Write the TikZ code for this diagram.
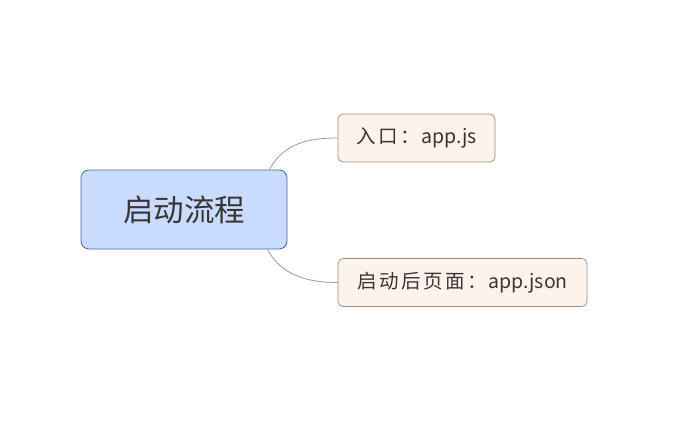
\documentclass[tikz,border=0pt]{standalone}
\usepackage{fontspec}
\newfontfamily\cjk{Noto Sans CJK SC}
\definecolor{mainfill}{HTML}{C9DCFF}
\definecolor{maindraw}{HTML}{4F6399}
\definecolor{subfill}{HTML}{FDF3EA}
\definecolor{subdraw}{HTML}{A08C80}
\definecolor{linkc}{HTML}{9A9A9A}
\definecolor{txt}{HTML}{3A3535}
\tikzset{
  mainbox/.style={draw=maindraw, fill=mainfill, rounded corners=8pt, line width=0.8pt,
    minimum width=206pt, minimum height=79pt, inner sep=0pt, text=txt,
    font=\cjk\fontsize{30.5}{34}\selectfont},
  subbox/.style={draw=subdraw, fill=subfill, rounded corners=5pt, line width=0.7pt,
    minimum height=48pt, inner sep=0pt, text=txt,
    font=\cjk\fontsize{19.5}{23}\selectfont},
  link/.style={draw=linkc, line width=0.8pt}
}
\newcommand{\cjkgap}{\hspace{2.5pt}}
\begin{document}
\begin{tikzpicture}[x=1pt,y=-1pt]
\useasboundingbox[fill=white] (0,0) rectangle (679,424);
\node[mainbox] (c) at (184,209.5) {启动流程};
\node[subbox, minimum width=157pt] (t) at (416.5,138) {入\cjkgap 口\cjkgap ：\hspace{2pt}app.js};
\node[subbox, minimum width=249pt] (b) at (462.5,282.5) {启\cjkgap 动\cjkgap 后\cjkgap 页\cjkgap 面\cjkgap ：\hspace{2pt}app.json};
\coordinate (c1) at ([xshift=-18pt]c.north east);
\coordinate (c2) at ([xshift=-20pt]c.south east);
\draw[link] (c1) .. controls +(14,-26) and +(-30,0) .. (t.west);
\draw[link] (c2) .. controls +(14,26) and +(-30,0) .. (b.west);
\end{tikzpicture}
\end{document}
